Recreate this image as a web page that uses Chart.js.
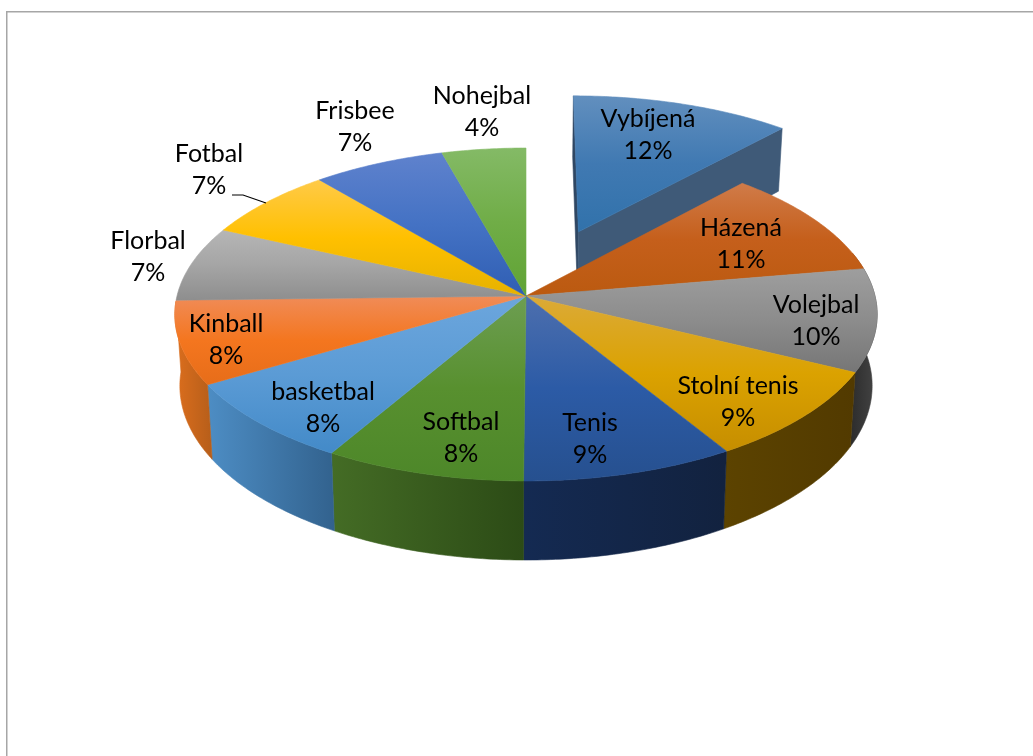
<!DOCTYPE html>
<html lang="cs">
<head>
<meta charset="utf-8">
<title>Sporty</title>
<script src="https://cdn.jsdelivr.net/npm/chart.js@4"></script>
<style>
  html, body { margin: 0; padding: 0; background: #fff; }
  canvas { display: block; }
</style>
</head>
<body>
<canvas id="pie" width="1033" height="756"></canvas>
<script>
// Share of each sport, in percent, clockwise from twelve o'clock.
const sports = ['Vybíjená', 'Házená', 'Volejbal', 'Stolní tenis', 'Tenis', 'Softbal',
                'basketbal', 'Kinball', 'Florbal', 'Fotbal', 'Frisbee', 'Nohejbal'];
const shares = [11.7, 10.6, 10.0, 9.0, 8.8, 8.3, 8.1, 8.1, 7.3, 7.0, 6.8, 4.3];
const baseColors = ['#4079b2', '#c55f1b', '#8c8c8c', '#dba200', '#2c5ba6', '#58902f',
                    '#5b9bd5', '#f4761f', '#a5a5a5', '#ffc000', '#4472c4', '#70ad47'];

// Top face shading, from the far edge of a slice to its near edge.
const topLight = ['#628fbe', '#d07b49', '#9e9e9e', '#dbaa38', '#4d6fae', '#6d9e52',
                  '#6ca6dd', '#f08c58', '#b6b6b6', '#ffca48', '#5f82cd', '#84ba66'];
const topDark  = ['#3172ab', '#bb5a10', '#767676', '#c68e00', '#26508f', '#4d8729',
                  '#438ac8', '#e76d19', '#8e8e8e', '#e6b200', '#2f5eb3', '#60a334'];

// Side wall shading, left to right along the rim.
const wallLeft  = ['#3f5a78', '#8a4210', '#2c2c2c', '#5c4300', '#142a52', '#446c25',
                   '#4d8dc4', '#dc6e1d', '#6f6f6f', '#a98000', '#2c4d8a', '#4b7630'];
const wallRight = ['#3f5a78', '#8a4210', '#454545', '#523a00', '#12223f', '#2c4b16',
                   '#32628e', '#b65e1a', '#6f6f6f', '#a98000', '#2c4d8a', '#4b7630'];

// Index of the slice pulled out of the pie, and how far, in radii.
const pulledSlice = 0;
const pullDistance = 0.437;

// Centre of each two-line label on the page.
const labelX  = [648, 741, 816, 738, 590, 461, 323, 226, 148, 209, 355, 482];
const labelY  = [135, 244, 321, 402, 439, 438, 408, 340, 257, 170, 127, 112];
const lineGap = 32.5;

// Camera: the rim is a perspective circle. Factors are relative to the library's outer radius.
const lens = {
  tilt: 1 / 9,
  top:    { wide: 349 / 296, deep: 164.4 / 296, drop: 0 },
  bottom: { wide: 344 / 296, deep: 172 / 296,   drop: 70.5 / 296 }
};

// Range of rim angles (radians clockwise from the top) whose wall faces the viewer.
const wallFrom = 1.3;
const wallTo = 4.68;

function project(arc, face, X, Y) {
  const w = 1 + lens.tilt * Y;
  const r = arc.outerRadius;
  return {
    x: arc.x + r * face.wide * X / w,
    y: arc.y + r * face.drop - r * face.deep * Y / w
  };
}

// Rim points of a slice between two angles.
function rim(arc, face, from, to, ox, oy) {
  const pts = [];
  const steps = Math.max(2, Math.ceil(Math.abs(to - from) / 0.012));
  for (let i = 0; i <= steps; i++) {
    const t = from + (to - from) * i / steps;
    pts.push(project(arc, face, ox + Math.sin(t), oy + Math.cos(t)));
  }
  return pts;
}

function tracePolygon(ctx, pts) {
  ctx.beginPath();
  pts.forEach((p, i) => i ? ctx.lineTo(p.x, p.y) : ctx.moveTo(p.x, p.y));
  ctx.closePath();
}

function paint(ctx, pts, style) {
  tracePolygon(ctx, pts);
  ctx.fillStyle = style;
  ctx.strokeStyle = style;
  ctx.lineWidth = 0.6;
  ctx.lineJoin = 'round';
  ctx.fill();
  ctx.stroke();
}

function bounds(pts) {
  const xs = pts.map(p => p.x), ys = pts.map(p => p.y);
  return { x0: Math.min(...xs), x1: Math.max(...xs), y0: Math.min(...ys), y1: Math.max(...ys) };
}

function drawTop(ctx, arc, i, a0, a1, ox, oy) {
  const pts = [project(arc, lens.top, ox, oy), ...rim(arc, lens.top, a0, a1, ox, oy)];
  const b = bounds(pts);
  const g = ctx.createLinearGradient(0, b.y0, 0, b.y1);
  g.addColorStop(0, topLight[i]);
  g.addColorStop(0.5, baseColors[i]);
  g.addColorStop(1, topDark[i]);
  paint(ctx, pts, g);
}

function drawWall(ctx, arc, i, a0, a1, ox, oy) {
  const upper = rim(arc, lens.top, a0, a1, ox, oy);
  const lower = rim(arc, lens.bottom, a0, a1, ox, oy).reverse();
  const pts = [...upper, ...lower];
  const b = bounds(pts);
  const g = ctx.createLinearGradient(b.x0, 0, b.x1, 0);
  g.addColorStop(0, wallLeft[i]);
  g.addColorStop(1, wallRight[i]);
  paint(ctx, pts, g);
}

// Flat cut face running from the slice's centre out to the rim at one angle.
function drawCut(ctx, arc, angle, ox, oy, color) {
  const s = Math.sin(angle), c = Math.cos(angle);
  paint(ctx, [
    project(arc, lens.top, ox, oy),
    project(arc, lens.top, ox + s, oy + c),
    project(arc, lens.bottom, ox + s, oy + c),
    project(arc, lens.bottom, ox, oy)
  ], color);
}

const solidPie = {
  id: 'solidPie',
  // The slices are rendered here as a tilted solid, from the angles the library computed.
  beforeDatasetDraw(chart, args) {
    const ctx = chart.ctx;
    const arcs = chart.getDatasetMeta(args.index).data;
    const angles = arcs.map(a => [a.startAngle + Math.PI / 2, a.endAngle + Math.PI / 2]);

    ctx.save();

    // Pulled slice first: it sits behind the rest of the pie.
    const [p0, p1] = angles[pulledSlice];
    const mid = (p0 + p1) / 2;
    const ox = pullDistance * Math.sin(mid), oy = pullDistance * Math.cos(mid);
    const pulled = arcs[pulledSlice];
    drawCut(ctx, pulled, p0, ox, oy, '#2f4763');
    drawCut(ctx, pulled, p1, ox, oy, wallLeft[pulledSlice]);
    drawTop(ctx, pulled, pulledSlice, p0, p1, ox, oy);

    // Near half of the outer wall, then every top face.
    arcs.forEach((arc, i) => {
      if (i === pulledSlice) return;
      const from = Math.max(angles[i][0], wallFrom), to = Math.min(angles[i][1], wallTo);
      if (to > from) drawWall(ctx, arc, i, from, to, 0, 0);
    });
    arcs.forEach((arc, i) => {
      if (i !== pulledSlice) drawTop(ctx, arc, i, angles[i][0], angles[i][1], 0, 0);
    });

    ctx.restore();
    return false;
  },
  afterDraw(chart) {
    const ctx = chart.ctx;
    ctx.save();

    // Frame along the top and left of the page.
    ctx.strokeStyle = '#a6a6a6';
    ctx.lineWidth = 1.5;
    ctx.beginPath();
    ctx.moveTo(6.75, 756);
    ctx.lineTo(6.75, 11.75);
    ctx.lineTo(1033, 11.75);
    ctx.stroke();

    // Leader line for the Fotbal label.
    ctx.strokeStyle = '#000';
    ctx.lineWidth = 1.2;
    ctx.beginPath();
    ctx.moveTo(232, 195);
    ctx.lineTo(243, 195);
    ctx.lineTo(266, 203);
    ctx.stroke();

    ctx.fillStyle = '#000';
    ctx.font = '25px Lato, Carlito, sans-serif';
    ctx.textAlign = 'center';
    ctx.textBaseline = 'middle';
    sports.forEach((name, i) => {
      ctx.fillText(name, labelX[i], labelY[i] - lineGap / 2);
      ctx.fillText(Math.round(shares[i]) + '%', labelX[i], labelY[i] + lineGap / 2);
    });
    ctx.restore();
  }
};

new Chart(document.getElementById('pie'), {
  type: 'pie',
  data: {
    labels: sports,
    datasets: [{ data: shares, backgroundColor: baseColors, borderWidth: 0 }]
  },
  options: {
    responsive: false,
    animation: false,
    layout: { padding: { left: 19, bottom: 164 } },
    plugins: { legend: { display: false }, tooltip: { enabled: false } }
  },
  plugins: [solidPie]
});
</script>
</body>
</html>
